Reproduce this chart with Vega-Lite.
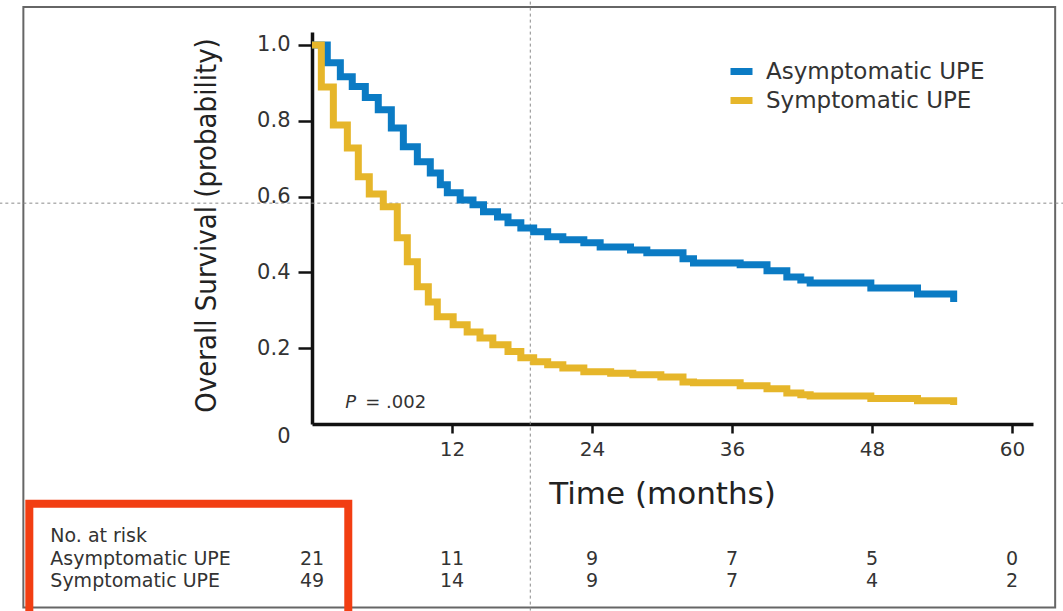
{
  "$schema": "https://vega.github.io/schema/vega-lite/v6.json",
  "autosize": {"type": "none"},
  "padding": {"left": 312, "top": 32, "right": 30, "bottom": 187},
  "width": 721,
  "height": 392,
  "background": "white",
  "config": {"view": {"stroke": null}, "font": "DejaVu Sans"},
  "datasets": {
    "km": [
      {"group": "Asymptomatic UPE", "time": 0, "surv": 1.0},
      {"group": "Asymptomatic UPE", "time": 1.31, "surv": 0.953},
      {"group": "Asymptomatic UPE", "time": 2.43, "surv": 0.916},
      {"group": "Asymptomatic UPE", "time": 3.45, "surv": 0.89},
      {"group": "Asymptomatic UPE", "time": 4.57, "surv": 0.861},
      {"group": "Asymptomatic UPE", "time": 5.68, "surv": 0.829},
      {"group": "Asymptomatic UPE", "time": 6.8, "surv": 0.781},
      {"group": "Asymptomatic UPE", "time": 7.83, "surv": 0.731},
      {"group": "Asymptomatic UPE", "time": 9.03, "surv": 0.692},
      {"group": "Asymptomatic UPE", "time": 10.14, "surv": 0.662},
      {"group": "Asymptomatic UPE", "time": 11.0, "surv": 0.631},
      {"group": "Asymptomatic UPE", "time": 11.6, "surv": 0.61},
      {"group": "Asymptomatic UPE", "time": 12.7, "surv": 0.591},
      {"group": "Asymptomatic UPE", "time": 13.8, "surv": 0.578},
      {"group": "Asymptomatic UPE", "time": 14.7, "surv": 0.56},
      {"group": "Asymptomatic UPE", "time": 15.9, "surv": 0.546},
      {"group": "Asymptomatic UPE", "time": 16.8, "surv": 0.531},
      {"group": "Asymptomatic UPE", "time": 17.9, "surv": 0.517},
      {"group": "Asymptomatic UPE", "time": 19.0, "surv": 0.507},
      {"group": "Asymptomatic UPE", "time": 20.2, "surv": 0.494},
      {"group": "Asymptomatic UPE", "time": 21.5, "surv": 0.486},
      {"group": "Asymptomatic UPE", "time": 23.3, "surv": 0.478},
      {"group": "Asymptomatic UPE", "time": 24.7, "surv": 0.467},
      {"group": "Asymptomatic UPE", "time": 27.3, "surv": 0.459},
      {"group": "Asymptomatic UPE", "time": 28.7, "surv": 0.452},
      {"group": "Asymptomatic UPE", "time": 31.8, "surv": 0.436},
      {"group": "Asymptomatic UPE", "time": 32.7, "surv": 0.425},
      {"group": "Asymptomatic UPE", "time": 36.7, "surv": 0.42},
      {"group": "Asymptomatic UPE", "time": 39.0, "surv": 0.404},
      {"group": "Asymptomatic UPE", "time": 40.7, "surv": 0.388},
      {"group": "Asymptomatic UPE", "time": 41.9, "surv": 0.38},
      {"group": "Asymptomatic UPE", "time": 42.7, "surv": 0.372},
      {"group": "Asymptomatic UPE", "time": 47.9, "surv": 0.359},
      {"group": "Asymptomatic UPE", "time": 51.9, "surv": 0.343},
      {"group": "Asymptomatic UPE", "time": 55.0, "surv": 0.322},
      {"group": "Symptomatic UPE", "time": 0, "surv": 1.0},
      {"group": "Symptomatic UPE", "time": 0.8, "surv": 0.889},
      {"group": "Symptomatic UPE", "time": 1.83, "surv": 0.789},
      {"group": "Symptomatic UPE", "time": 3.03, "surv": 0.728},
      {"group": "Symptomatic UPE", "time": 3.97, "surv": 0.652},
      {"group": "Symptomatic UPE", "time": 4.91, "surv": 0.607},
      {"group": "Symptomatic UPE", "time": 6.11, "surv": 0.573},
      {"group": "Symptomatic UPE", "time": 7.31, "surv": 0.491},
      {"group": "Symptomatic UPE", "time": 8.17, "surv": 0.428},
      {"group": "Symptomatic UPE", "time": 9.03, "surv": 0.362},
      {"group": "Symptomatic UPE", "time": 9.97, "surv": 0.322},
      {"group": "Symptomatic UPE", "time": 10.74, "surv": 0.283},
      {"group": "Symptomatic UPE", "time": 12.1, "surv": 0.262},
      {"group": "Symptomatic UPE", "time": 13.3, "surv": 0.243},
      {"group": "Symptomatic UPE", "time": 14.4, "surv": 0.227},
      {"group": "Symptomatic UPE", "time": 15.5, "surv": 0.209},
      {"group": "Symptomatic UPE", "time": 16.8, "surv": 0.191},
      {"group": "Symptomatic UPE", "time": 17.9, "surv": 0.175},
      {"group": "Symptomatic UPE", "time": 19.0, "surv": 0.164},
      {"group": "Symptomatic UPE", "time": 20.2, "surv": 0.156},
      {"group": "Symptomatic UPE", "time": 21.5, "surv": 0.148},
      {"group": "Symptomatic UPE", "time": 23.3, "surv": 0.138},
      {"group": "Symptomatic UPE", "time": 25.6, "surv": 0.134},
      {"group": "Symptomatic UPE", "time": 27.5, "surv": 0.13},
      {"group": "Symptomatic UPE", "time": 29.9, "surv": 0.124},
      {"group": "Symptomatic UPE", "time": 31.8, "surv": 0.111},
      {"group": "Symptomatic UPE", "time": 32.7, "surv": 0.109},
      {"group": "Symptomatic UPE", "time": 36.7, "surv": 0.101},
      {"group": "Symptomatic UPE", "time": 39.0, "surv": 0.093},
      {"group": "Symptomatic UPE", "time": 40.7, "surv": 0.082},
      {"group": "Symptomatic UPE", "time": 41.9, "surv": 0.077},
      {"group": "Symptomatic UPE", "time": 42.7, "surv": 0.074},
      {"group": "Symptomatic UPE", "time": 47.9, "surv": 0.067},
      {"group": "Symptomatic UPE", "time": 51.9, "surv": 0.061},
      {"group": "Symptomatic UPE", "time": 55.0, "surv": 0.05}
    ],
    "risk": [
      {"group": "Asymptomatic UPE", "time": 0, "n": 21},
      {"group": "Asymptomatic UPE", "time": 12, "n": 11},
      {"group": "Asymptomatic UPE", "time": 24, "n": 9},
      {"group": "Asymptomatic UPE", "time": 36, "n": 7},
      {"group": "Asymptomatic UPE", "time": 48, "n": 5},
      {"group": "Asymptomatic UPE", "time": 60, "n": 0},
      {"group": "Symptomatic UPE", "time": 0, "n": 49},
      {"group": "Symptomatic UPE", "time": 12, "n": 14},
      {"group": "Symptomatic UPE", "time": 24, "n": 9},
      {"group": "Symptomatic UPE", "time": 36, "n": 7},
      {"group": "Symptomatic UPE", "time": 48, "n": 4},
      {"group": "Symptomatic UPE", "time": 60, "n": 2}
    ]
  },
  "layer": [
    {
      "data": {"values": [{}]},
      "mark": {"type": "rect", "filled": false, "stroke": "#666666", "strokeWidth": 2},
      "encoding": {
        "x": {"datum": -24.74}, "x2": {"datum": 63.7},
        "y": {"datum": 1.1}, "y2": {"datum": -0.484}
      }
    },
    {
      "data": {"values": [{}]},
      "mark": {"type": "rule", "stroke": "#8a8a8a", "strokeWidth": 1, "strokeDash": [3, 3]},
      "encoding": {"x": {"datum": 18.71}, "y": {"datum": 1.13}, "y2": {"datum": -0.5}}
    },
    {
      "data": {"values": [{}]},
      "mark": {"type": "rule", "stroke": "#8a8a8a", "strokeWidth": 1, "strokeDash": [3, 3]},
      "encoding": {"y": {"datum": 0.5825}, "x": {"datum": -26.8}, "x2": {"datum": 64.6}}
    },
    {
      "data": {"values": [{}]},
      "mark": {"type": "rect", "filled": false, "stroke": "#f23e12", "strokeWidth": 8},
      "encoding": {
        "x": {"datum": -24.23}, "x2": {"datum": 3.11},
        "y": {"datum": -0.2104}, "y2": {"datum": -0.62}
      }
    },
    {
      "data": {"name": "km"},
      "transform": [{"filter": "datum.group == 'Asymptomatic UPE'"}],
      "mark": {"type": "line", "interpolate": "step-after", "strokeWidth": 7},
      "encoding": {
        "x": {
          "field": "time", "type": "quantitative",
          "scale": {"domain": [0, 61.8], "nice": false, "zero": false},
          "axis": {
            "title": "Time (months)",
            "values": [12, 24, 36, 48, 60],
            "grid": false,
            "domainColor": "#111111", "domainWidth": 3.5,
            "tickColor": "#111111", "tickWidth": 2.5, "tickSize": 9,
            "labelFont": "DejaVu Sans", "labelFontSize": 20, "labelColor": "#333333", "labelPadding": 6,
            "titleFont": "DejaVu Sans", "titleFontSize": 31, "titleFontWeight": "normal", "titleColor": "#222222",
            "titleX": 350, "titleY": 79, "titleBaseline": "alphabetic", "titleAlign": "center"
          }
        },
        "y": {
          "field": "surv", "type": "quantitative",
          "scale": {"domain": [0, 1.034], "nice": false, "zero": false},
          "axis": {
            "title": "Overall Survival (probability)",
            "values": [0, 0.2, 0.4, 0.6, 0.8, 1.0],
            "labelExpr": "datum.value == 0 ? '0' : format(datum.value, '.1f')",
            "labelOffset": {"condition": {"test": "datum.value == 0", "value": 12}, "value": 0},
            "tickOpacity": {"condition": {"test": "datum.value == 0", "value": 0}, "value": 1},
            "grid": false,
            "domainColor": "#111111", "domainWidth": 3.5,
            "tickColor": "#111111", "tickWidth": 2.5, "tickSize": 14,
            "labelFont": "DejaVu Sans", "labelFontSize": 21, "labelColor": "#333333", "labelPadding": 8,
            "titleFont": "DejaVu Sans Condensed", "titleFontSize": 29, "titleFontWeight": "normal", "titleColor": "#222222",
            "titleAngle": 270, "titleX": -106, "titleY": 193, "titleAlign": "center", "titleBaseline": "middle"
          }
        },
        "color": {
          "field": "group", "type": "nominal",
          "scale": {"domain": ["Asymptomatic UPE", "Symptomatic UPE"], "range": ["#0b7bc4", "#e6b62a"]},
          "legend": {
            "title": null,
            "orient": "none", "legendX": 415, "legendY": 25,
            "symbolType": "stroke", "symbolSize": 484, "symbolStrokeWidth": 7,
            "labelFont": "DejaVu Sans", "labelFontSize": 23, "labelColor": "#333333", "labelLimit": 400,
            "labelOffset": 10, "rowPadding": -4, "padding": 0
          }
        }
      }
    },
    {
      "data": {"name": "km"},
      "transform": [{"filter": "datum.group == 'Symptomatic UPE'"}],
      "mark": {"type": "line", "interpolate": "step-after", "strokeWidth": 7},
      "encoding": {
        "x": {"field": "time", "type": "quantitative"},
        "y": {"field": "surv", "type": "quantitative"},
        "color": {"field": "group", "type": "nominal"}
      }
    },
    {
      "data": {"values": [{}]},
      "mark": {"type": "text", "font": "DejaVu Sans", "fontSize": 18, "fontStyle": "italic", "color": "#333333", "align": "left", "baseline": "alphabetic"},
      "encoding": {"x": {"datum": 2.85}, "y": {"datum": 0.043}, "text": {"value": "P"}}
    },
    {
      "data": {"values": [{}]},
      "mark": {"type": "text", "font": "DejaVu Sans", "fontSize": 18, "color": "#333333", "align": "left", "baseline": "alphabetic"},
      "encoding": {"x": {"datum": 4.57}, "y": {"datum": 0.043}, "text": {"value": "= .002"}}
    },
    {
      "data": {"values": [{}]},
      "mark": {"type": "text", "font": "DejaVu Sans", "fontSize": 19, "color": "#333333", "align": "left", "baseline": "alphabetic"},
      "encoding": {"x": {"datum": -22.43}, "y": {"datum": -0.311}, "text": {"value": "No. at risk"}}
    },
    {
      "data": {"name": "risk"},
      "transform": [{"filter": "datum.group == 'Asymptomatic UPE'"}],
      "mark": {"type": "text", "font": "DejaVu Sans", "fontSize": 19, "color": "#333333", "align": "center", "baseline": "alphabetic"},
      "encoding": {"x": {"field": "time", "type": "quantitative"}, "y": {"datum": -0.371}, "text": {"field": "n", "type": "quantitative"}}
    },
    {
      "data": {"name": "risk"},
      "transform": [{"filter": "datum.group == 'Symptomatic UPE'"}],
      "mark": {"type": "text", "font": "DejaVu Sans", "fontSize": 19, "color": "#333333", "align": "center", "baseline": "alphabetic"},
      "encoding": {"x": {"field": "time", "type": "quantitative"}, "y": {"datum": -0.429}, "text": {"field": "n", "type": "quantitative"}}
    },
    {
      "data": {"name": "risk"},
      "transform": [{"filter": "datum.time == 0 && datum.group == 'Asymptomatic UPE'"}],
      "mark": {"type": "text", "font": "DejaVu Sans", "fontSize": 19, "color": "#333333", "align": "left", "baseline": "alphabetic"},
      "encoding": {"x": {"datum": -22.43}, "y": {"datum": -0.371}, "text": {"field": "group", "type": "nominal"}}
    },
    {
      "data": {"name": "risk"},
      "transform": [{"filter": "datum.time == 0 && datum.group == 'Symptomatic UPE'"}],
      "mark": {"type": "text", "font": "DejaVu Sans", "fontSize": 19, "color": "#333333", "align": "left", "baseline": "alphabetic"},
      "encoding": {"x": {"datum": -22.43}, "y": {"datum": -0.429}, "text": {"field": "group", "type": "nominal"}}
    }
  ]
}
